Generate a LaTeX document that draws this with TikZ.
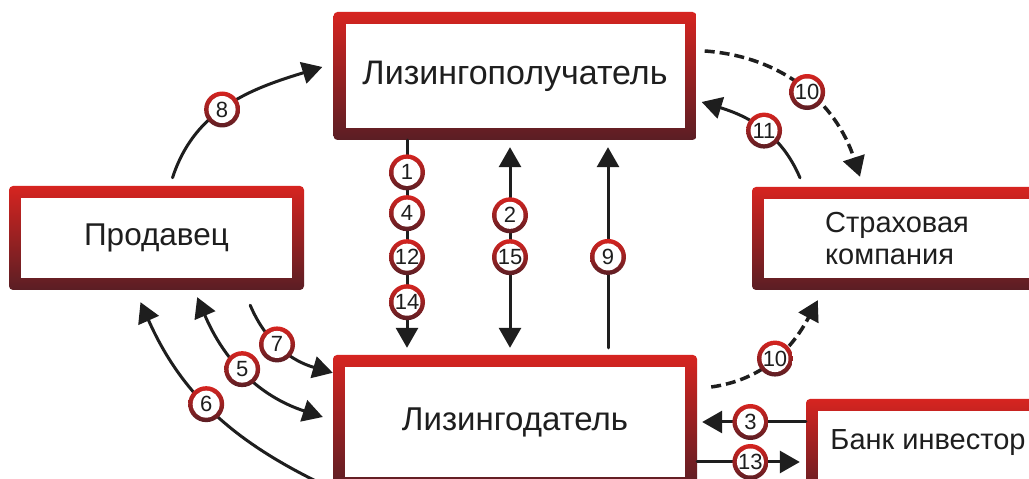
\documentclass[tikz,border=0pt]{standalone}
\usepackage{fontspec}
\setmainfont{Liberation Sans}
\usetikzlibrary{arrows.meta}
\definecolor{lred}{HTML}{D62420}
\definecolor{ldark}{HTML}{5A1E24}
\definecolor{ink}{HTML}{1E1E1E}

\begin{document}
\begin{tikzpicture}[x=1pt, y=1pt, line cap=round, line join=round,
    >={Triangle[width=22pt,length=20pt]},
    leasebox/.style={rectangle, rounded corners=4pt, inner sep=0pt,
        top color=lred, bottom color=ldark, text=ink,
        font=\fontsize{29}{32}\selectfont,
        path picture={\fill[white, sharp corners]
            ([shift={(12pt,12pt)}]path picture bounding box.south west) rectangle
            ([shift={(-12pt,-12pt)}]path picture bounding box.north east);}},
    numcirc/.style={circle, minimum size=36pt, inner sep=0pt, solid,
        top color=lred, bottom color=ldark, text=ink,
        font=\fontsize{22}{22}\selectfont,
        path picture={\fill[white] (path picture bounding box.center) circle (13.5pt);}},
    arr/.style={ink, line width=3pt, ->},
    dasharr/.style={arr, line width=3.5pt, line cap=butt, dash pattern=on 10pt off 5pt}]

    % canvas, the boxes run past the right and lower edge
    \useasboundingbox (0,0) rectangle (1029,479);
    \clip (0,0) rectangle (1029,479);
    \fill[white] (0,0) rectangle (1029,479);

    % the five parties
    \node[leasebox, minimum width=363pt, minimum height=128pt, font=\fontsize{34}{36}\selectfont] (lp) at (515,403) {Лизингополучатель};
    \node[leasebox, minimum width=295pt, minimum height=104pt, font=\fontsize{31.5}{34}\selectfont] (pr) at (156.5,241) {Продавец};
    \node[leasebox, minimum width=290pt, minimum height=103pt, align=left] (sk) at (897,240.5) {Страховая\\компания};
    \node[leasebox, minimum width=364pt, minimum height=134pt, font=\fontsize{33}{36}\selectfont] (ld) at (515,57) {Лизингодатель};
    \node[leasebox, minimum width=244pt, minimum height=101pt, text height=20pt, text depth=19pt] (bi) at (928,29.5) {Банк инвестор};

    % vertical flows between lessee and lessor
    \draw[arr, shorten >=7pt] ([xshift=-108pt]lp.south) -- ([xshift=-108pt]ld.north)
        node[numcirc, pos=0.15] (n1) {1}
        node[numcirc, pos=0.34] (n4) {4}
        node[numcirc, pos=0.545] (n12) {12}
        node[numcirc, pos=0.755] (n14) {14};
    \draw[arr, <->, shorten <=7pt, shorten >=7pt] ([xshift=-5pt]lp.south) -- ([xshift=-5pt]ld.north)
        node[numcirc, pos=0.35] (n2) {2}
        node[numcirc, pos=0.545] (n15) {15};
    \draw[arr, shorten <=7pt, shorten >=7pt] ([xshift=93pt]ld.north) -- ([xshift=93pt]lp.south)
        node[numcirc, pos=0.456] (n9) {9};

    % bank
    \coordinate (ld13) at ([yshift=-40pt]ld.east);
    \draw[arr, shorten >=5pt] (bi.west |- ld.east) -- (ld.east)
        node[numcirc, pos=0.51] (n3) {3};
    \draw[arr, shorten >=6pt] (ld13) -- (ld13 -| bi.west)
        node[numcirc, pos=0.49] (n13) {13};

    % seller
    \draw[arr] ([shift={(16pt,8pt)}]pr.north) to[out=72, in=197]
        node[numcirc, pos=0.45] (n8) {8} ([shift={(-11pt,9pt)}]lp.west);
    \draw[arr] ([shift={(-54pt,-15pt)}]pr.south east) to[out=-67, in=164]
        node[numcirc, pos=0.43] (n7) {7} ([yshift=-18pt]ld.north west);
    \draw[arr, <->] ([shift={(-107pt,-7pt)}]pr.south east) to[out=-67, in=162]
        node[numcirc, pos=0.47] (n5) {5} ([shift={(-10pt,5pt)}]ld.west);
    \draw[arr, <-] ([shift={(-16pt,-12pt)}]pr.south) to[out=-66, in=155]
        node[numcirc, pos=0.44] (n6) {6} (ld.south west);

    % insurer
    \draw[dasharr] ([shift={(8pt,25pt)}]lp.east) to[out=-4, in=108]
        node[numcirc, pos=0.53] (n10a) {10} ([shift={(-37pt,10pt)}]sk.north);
    \draw[arr] ([shift={(-97pt,9pt)}]sk.north) to[out=113, in=-17]
        node[numcirc, pos=0.47] (n11) {11} ([shift={(5pt,-26pt)}]lp.east);
    \draw[dasharr] ([shift={(14pt,35pt)}]ld.east) to[out=8, in=-118]
        node[numcirc, pos=0.5] (n10b) {10} ([shift={(66pt,-10pt)}]sk.south west);

\end{tikzpicture}
\end{document}
